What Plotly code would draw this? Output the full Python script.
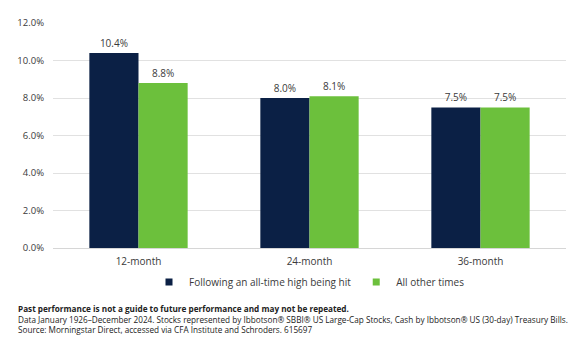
import plotly.graph_objects as go

categories = ["12-month", "24-month", "36-month"]
series_names = ["Following an all-time high being hit", "All other times"]
ath_values = [10.4, 8.0, 7.5]
other_values = [8.8, 8.1, 7.5]
colors = ["#0b2045", "#6cc03c"]
y_ticks = [0, 2, 4, 6, 8, 10, 12]
y_tick_labels = [f"{v:.1f}%" for v in y_ticks]

footnotes = [
    "<b>Past performance is not a guide to future performance and may not be repeated.</b>",
    "Data January 1926–December 2024. Stocks represented by Ibbotson® SBBI® US Large-Cap Stocks, Cash by Ibbotson® US (30-day) Treasury Bills.",
    "Source: Morningstar Direct, accessed via CFA Institute and Schroders. 615697",
]

FONT = "Open Sans"
TXT = "#3a3a3a"

fig = go.Figure()
for name, vals, col in zip(series_names, [ath_values, other_values], colors):
    fig.add_trace(go.Bar(
        x=categories, y=vals, name=name, marker_color=col, marker_line_width=0,
        texttemplate="%{y:.1f}%", textposition="outside", cliponaxis=False,
        textfont=dict(family=FONT, size=10, color=TXT), showlegend=False,
    ))
    fig.add_trace(go.Scatter(
        x=[None], y=[None], mode="markers", name=name,
        marker=dict(symbol="square", size=7, color=col),
    ))

L, R, T, B = 53, 20, 23, 96
W, H = 586, 344
pw = W - L - R
ph = H - T - B

fig.add_annotation(
    text="<br>".join(footnotes), xref="paper", yref="paper",
    x=(16 - L) / pw, y=(H - B - 319) / ph,
    xanchor="left", yanchor="middle", showarrow=False, align="left",
    font=dict(family=FONT, size=8.2, color="#222222"),
)

fig.update_layout(
    width=W, height=H,
    margin=dict(l=L, r=R, t=T, b=B, pad=0),
    paper_bgcolor="white", plot_bgcolor="white",
    barmode="group", bargap=0.425, bargroupgap=0,
    font=dict(family=FONT, size=10, color=TXT),
    legend=dict(
        orientation="h", x=0.5, xanchor="center",
        y=(H - B - 282) / ph, yanchor="middle",
        font=dict(family=FONT, size=10, color=TXT),
        itemwidth=30, tracegroupgap=0,
    ),
    xaxis=dict(
        showgrid=False, showline=False, ticks="",
        tickfont=dict(family=FONT, size=10, color=TXT),
        ticklabelstandoff=6,
    ),
    yaxis=dict(
        range=[0, 12], tickvals=y_ticks, ticktext=y_tick_labels,
        showgrid=True, gridcolor="#e1e1e1", gridwidth=1,
        zeroline=True, zerolinecolor="#d6d6d6", zerolinewidth=1,
        showline=False, ticks="",
        tickfont=dict(family=FONT, size=9.5, color=TXT),
        ticklabelstandoff=8,
    ),
)

fig.write_html("out.html")
